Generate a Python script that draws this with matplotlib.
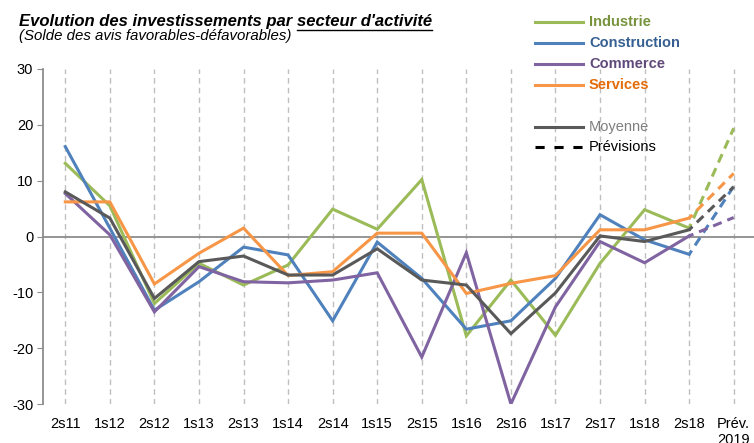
import numpy as np
import matplotlib
matplotlib.use('Agg')
import matplotlib.pyplot as plt
from matplotlib.lines import Line2D

plt.rcParams['font.family'] = ['Liberation Sans', 'DejaVu Sans']
plt.rcParams['axes.unicode_minus'] = False

# Donnees (solde des avis favorables - defavorables)
periodes = ['2s11', '1s12', '2s12', '1s13', '2s13', '1s14', '2s14', '1s15', '2s15',
            '1s16', '2s16', '1s17', '2s17', '1s18', '2s18', 'Prév.\n2019']
industrie = [13.1, 5.5, -12.0, -4.8, -8.7, -5.1, 4.9, 1.3, 10.2, -17.8, -7.8, -17.7, -4.8, 4.8, 1.5, 19.4]
construction = [16.1, 1.5, -13.2, -8.1, -1.9, -3.3, -15.1, -1.0, -7.5, -16.6, -15.1, -7.5, 3.9, -0.6, -3.2, 9.0]
commerce = [7.7, 0.3, -13.5, -5.4, -8.1, -8.3, -7.8, -6.5, -21.6, -2.9, -30.0, -12.6, -0.9, -4.7, 0.1, 3.4]
services = [6.2, 6.2, -8.5, -3.0, 1.5, -7.0, -6.3, 0.6, 0.6, -10.2, -8.4, -7.0, 1.2, 1.2, 3.3, 11.3]
moyenne = [8.0, 3.3, -11.1, -4.5, -3.5, -6.9, -6.9, -2.2, -7.8, -8.7, -17.4, -10.1, 0.1, -0.9, 1.2, 8.9]

series = [
    ('Industrie', industrie, '#9BBB59', '#77933C'),
    ('Construction', construction, '#4F81BD', '#376092'),
    ('Commerce', commerce, '#8064A2', '#604A7B'),
    ('Services', services, '#F79646', '#E46C0A'),
    ('Moyenne', moyenne, '#595959', '#7F7F7F'),
]

fig = plt.figure(figsize=(7.54, 4.43), dpi=100)
ax = fig.add_axes([43 / 754, 1 - 404 / 443, 713 / 754, 335 / 443])

x = np.arange(len(periodes))
for nom, vals, col, tcol in series:
    ax.plot(x[:15], vals[:15], color=col, lw=2.2, solid_joinstyle='miter', zorder=3)
    ax.plot(x[14:], vals[14:], color=col, lw=2.2, ls=(1.5, (3, 2)), zorder=3)

# grille verticale en pointilles
for xi in x:
    ax.axvline(xi, color='#BFBFBF', lw=1, ls=(0, (4, 3)), zorder=1)
ax.axhline(0, color='#8C8C8C', lw=1.3, zorder=2)

ax.set_xlim(-0.5, 15.5)
ax.set_ylim(-30, 30)
ax.set_yticks(range(-30, 31, 10))
ax.set_xticks(x)
ax.set_xticklabels(periodes, fontsize=10.5, va='top')
ax.tick_params(axis='x', length=0, pad=9)
ax.tick_params(axis='y', length=4, color='#8C8C8C', labelsize=10.5, pad=3)
for s in ['top', 'right', 'bottom']:
    ax.spines[s].set_visible(False)
ax.spines['left'].set_color('#8C8C8C')
ax.spines['left'].set_linewidth(1.3)

# titre
t1 = fig.text(19 / 754, 1 - 26 / 443, "Evolution des investissements par ",
              fontsize=12, fontweight='bold', style='italic')
fig.canvas.draw()
bb = t1.get_window_extent()
t2 = fig.text(bb.x1 / 754, 1 - 26 / 443, "secteur d'activité",
              fontsize=12, fontweight='bold', style='italic')
fig.canvas.draw()
bb2 = t2.get_window_extent()
fig.add_artist(Line2D([bb2.x0 / 754, bb2.x1 / 754], [(bb2.y0 - 1) / 443] * 2,
                      color='black', lw=1.0))
fig.text(19 / 754, 1 - 40 / 443, "(Solde des avis favorables-défavorables)",
         fontsize=10.8, style='italic')

# legende manuelle
rows = [22, 43, 64, 85, 127, 147]
for (nom, vals, col, tcol), yy in zip(series, rows[:5]):
    fy = 1 - yy / 443
    fig.add_artist(Line2D([535 / 754, 583 / 754], [fy, fy], color=col, lw=2.2))
    fig.text(589 / 754, fy, nom, color=tcol, fontsize=10.5,
             fontweight='bold' if nom != 'Moyenne' else 'normal', va='center')
fy = 1 - rows[5] / 443
fig.add_artist(Line2D([535 / 754, 583 / 754], [fy, fy], color='black', lw=2.2,
                      ls=(0, (3, 3.2))))
fig.text(589 / 754, fy, 'Prévisions', color='black', fontsize=10.5, va='center')

fig.savefig('out.png', dpi=100)
